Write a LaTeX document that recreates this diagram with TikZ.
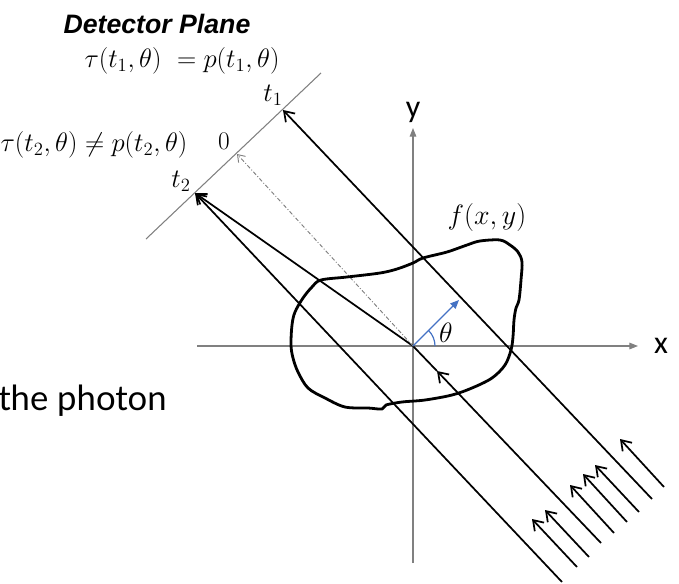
\RequirePackage{fix-cm}
\documentclass[tikz,border=0pt]{standalone}
\usepackage{fontspec}
\usetikzlibrary{arrows.meta}
\newfontfamily\dpfont{Liberation Sans}
\newfontfamily\axfont{Carlito}
\newfontfamily\latofont{Lato}
\definecolor{axgray}{HTML}{808080}
\definecolor{thblue}{HTML}{4472C4}
\begin{document}
\begin{tikzpicture}[x=0.75pt,y=-0.75pt,
  ray/.style={line width=1.3pt, black},
  barb/.style={-{Straight Barb[length=7pt,width=9.5pt]}},
  axis/.style={line width=0.8pt, axgray, -{Triangle[length=6.5pt,width=5pt]}},
  detline/.style={line width=0.8pt, axgray},
  dashray/.style={line width=0.7pt, axgray, dash pattern=on 3pt off 1.5pt on 0.7pt off 1.5pt,
     -{Straight Barb[length=5pt,width=7pt]}},
  blob/.style={line width=2.1pt, black},
  lbl/.style={inner sep=0pt}]
\useasboundingbox (0,0) rectangle (679,583);
% key points
\coordinate (O) at (413,346);
\coordinate (xs) at (197,346);
\coordinate (xe) at (638,346);
\coordinate (ys) at (413,563);
\coordinate (ye) at (413,128);
\coordinate (dA) at (146,239);
\coordinate (dB) at (321,73);
\coordinate (t1p) at (283,110);
\coordinate (zp) at (237,154);
\coordinate (t2p) at (195,193);
\coordinate (aEnd) at (562,582);
\coordinate (bEnd) at (601,543);
\coordinate (bMid) at (437,371);
\coordinate (cEnd) at (652,499);
\coordinate (blueTip) at (459,300);
% short arrows (tail, tip)
\coordinate (d1) at (577,567); \coordinate (d2) at (532,519);
\coordinate (e1) at (589,557); \coordinate (e2) at (545,510);
\coordinate (f1) at (614,533); \coordinate (f2) at (570,485);
\coordinate (g1) at (627,522); \coordinate (g2) at (583,474);
\coordinate (h1) at (639,512); \coordinate (h2) at (595,465);
\coordinate (i1) at (664,487); \coordinate (i2) at (620,439);

% axes
\draw[axis] (xs) -- (xe);
\draw[axis] (ys) -- (ye);
\node[lbl] (xl) at (661,346) {\axfont\fontsize{24}{28}\selectfont x};
\node[lbl] (yl) at (413,112) {\axfont\fontsize{24}{28}\selectfont y};

% detector
\draw[detline] (dA) -- (dB);

% rays
\draw[ray, barb] (cEnd) -- (t1p);
\draw[ray, barb] (aEnd) -- (t2p);
\draw[ray, barb] (bEnd) -- (bMid);
\draw[ray] (bMid) -- (O);
\draw[ray, barb] (O) -- (t2p);
\foreach \p in {d,e,f,g,h,i} {\draw[ray, barb] (\p1) -- (\p2);}

% dashed central ray
\draw[dashray] (O) -- (zp);

% object
\draw[blob] plot[smooth cycle, tension=0.55] coordinates {
(321,280) (347,277) (380,273) (397,269) (413,263) (423,258) (447,252) (467,245)
(480,241) (500,240) (510,245) (518,252) (522,262) (521,280) (519,300) (516,308)
(514,320) (513,337) (511,350) (505,365) (492,378) (472,388) (452,395) (425,400)
(402,402) (386,405) (382,409) (368,408) (345,407) (325,398) (308,388) (298,372)
(293,358) (291,345) (292,325) (295,312) (303,298) (312,287)};

% theta
\draw[thblue, line width=0.9pt, -{Triangle[length=6.5pt,width=5.5pt]}] (O) -- (blueTip);
\draw[thblue, line width=0.9pt] (O) ++(22,0) arc[start angle=0, end angle=-45, radius=22];
\node[lbl] (th) at (446,333) {\fontsize{21}{24}\selectfont$\theta$};

% labels
\node[lbl] (dp) at (157,24) {\dpfont\bfseries\itshape\fontsize{20}{24}\selectfont Detector Plane};
\node[lbl] (eq1) at (182,61) {\fontsize{20}{24}\selectfont$\tau(t_1,\theta)\ = p(t_1,\theta)$};
\node[lbl] (eq2) at (94,145) {\fontsize{20}{24}\selectfont$\tau(t_2,\theta) \neq p(t_2,\theta)$};
\node[lbl] (t1l) at (273,95) {\fontsize{20}{24}\selectfont$t_1$};
\node[lbl] (zl) at (224,141) {\fontsize{19}{22}\selectfont$0$};
\node[lbl] (t2l) at (181,181) {\fontsize{20}{24}\selectfont$t_2$};
\node[lbl] (fl) at (487,217) {\fontsize{21}{25}\selectfont$f(x,y)$};
\node[lbl, anchor=base west] (ph) at (-2,410) {\latofont\fontsize{26}{31}\selectfont the photon};
\end{tikzpicture}
\end{document}
